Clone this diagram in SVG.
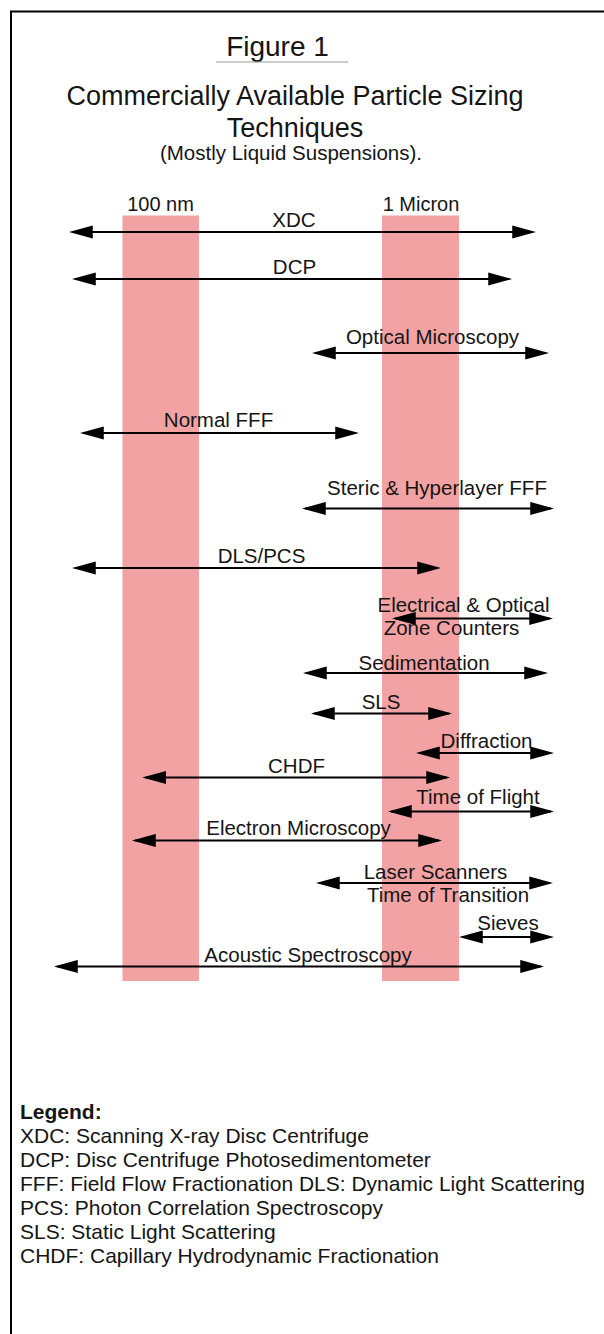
<svg xmlns="http://www.w3.org/2000/svg" width="604" height="1334" viewBox="0 0 604 1334">
<style>
text{font-family:"Liberation Sans",Arial,sans-serif;fill:#151515}
.t{font-size:27px;text-anchor:middle}
.lab{font-size:20.5px;text-anchor:middle}
.leg{font-size:21px}
.arr{stroke:#000;stroke-width:2;fill:none;marker-start:url(#ah);marker-end:url(#ah)}
.bar{fill:#F3A2A4}
</style>
<defs>
<marker id="ah" markerUnits="userSpaceOnUse" markerWidth="24" markerHeight="14" viewBox="0 0 22 12" refX="19" refY="6" orient="auto-start-reverse">
<path d="M0,0 L22,6 L0,12 Z" fill="#000"/>
</marker>
</defs>
<rect x="0" y="0" width="604" height="1334" fill="#fff"/>
<rect x="11" y="11.5" width="700" height="1400" fill="none" stroke="#000" stroke-width="2"/>

<g id="title">
<text x="277.5" y="56" style="font-size:28px;text-anchor:middle">Figure 1</text>
<line x1="216" y1="62" x2="348" y2="62" stroke="#999" stroke-width="1.2"/>
<text class="t" x="295" y="105">Commercially Available Particle Sizing</text>
<text class="t" x="295" y="137">Techniques</text>
<text class="lab" x="291" y="159.5">(Mostly Liquid Suspensions).</text>
</g>

<g id="scale-100nm">
<rect class="bar" x="122.5" y="215.5" width="76.5" height="765.5"/>
<text x="160.5" y="210.5" style="font-size:20px;text-anchor:middle">100 nm</text>
</g>
<g id="scale-1micron">
<rect class="bar" x="382" y="215.5" width="77" height="765.5"/>
<text x="421" y="210.5" style="font-size:20px;text-anchor:middle">1 Micron</text>
</g>

<g id="connectors">
<line class="arr" x1="72" y1="232" x2="533" y2="232"/>
<line class="arr" x1="75" y1="279" x2="509" y2="279"/>
<line class="arr" x1="315" y1="353" x2="546" y2="353"/>
<line class="arr" x1="83" y1="433" x2="356" y2="433"/>
<line class="arr" x1="305" y1="508.5" x2="551" y2="508.5"/>
<line class="arr" x1="75" y1="568" x2="438" y2="568"/>
<line class="arr" x1="395" y1="618.5" x2="550" y2="618.5"/>
<line class="arr" x1="306" y1="673" x2="545" y2="673"/>
<line class="arr" x1="314" y1="713.5" x2="449" y2="713.5"/>
<line class="arr" x1="419" y1="753" x2="551" y2="753"/>
<line class="arr" x1="145.5" y1="777.5" x2="447" y2="777.5"/>
<line class="arr" x1="391" y1="811.5" x2="551" y2="811.5"/>
<line class="arr" x1="135" y1="840.5" x2="439" y2="840.5"/>
<line class="arr" x1="319" y1="883" x2="550" y2="883"/>
<line class="arr" x1="462" y1="937" x2="551" y2="937"/>
<line class="arr" x1="57" y1="966.5" x2="541" y2="966.5"/>
</g>

<g id="n-xdc"><text class="lab" x="294" y="226.5">XDC</text></g>
<g id="n-dcp"><text class="lab" x="294.5" y="274">DCP</text></g>
<g id="n-optical"><text class="lab" x="432.5" y="344">Optical Microscopy</text></g>
<g id="n-normalfff"><text class="lab" x="218.5" y="427">Normal FFF</text></g>
<g id="n-steric"><text class="lab" x="437" y="495">Steric &amp; Hyperlayer FFF</text></g>
<g id="n-dls"><text class="lab" x="261.5" y="563">DLS/PCS</text></g>
<g id="n-zone"><text class="lab" x="463.5" y="611.5">Electrical &amp; Optical</text><text class="lab" x="451.5" y="635">Zone Counters</text></g>
<g id="n-sed"><text class="lab" x="424" y="670">Sedimentation</text></g>
<g id="n-sls"><text class="lab" x="381" y="709">SLS</text></g>
<g id="n-diff"><text class="lab" x="486.5" y="748">Diffraction</text></g>
<g id="n-chdf"><text class="lab" x="296.5" y="773">CHDF</text></g>
<g id="n-tof"><text class="lab" x="478" y="804">Time of Flight</text></g>
<g id="n-em"><text class="lab" x="298.5" y="835">Electron Microscopy</text></g>
<g id="n-laser"><text class="lab" x="435.5" y="879">Laser Scanners</text><text class="lab" x="448" y="902">Time of Transition</text></g>
<g id="n-sieves"><text class="lab" x="508" y="930">Sieves</text></g>
<g id="n-acoustic"><text class="lab" x="308" y="962">Acoustic Spectroscopy</text></g>

<g id="legend">
<text class="leg" x="20" y="1119" style="font-weight:bold">Legend:</text>
<text class="leg" x="20" y="1143">XDC: Scanning X-ray Disc Centrifuge</text>
<text class="leg" x="20" y="1167">DCP: Disc Centrifuge Photosedimentometer</text>
<text class="leg" x="20" y="1191">FFF: Field Flow Fractionation DLS: Dynamic Light Scattering</text>
<text class="leg" x="20" y="1215">PCS: Photon Correlation Spectroscopy</text>
<text class="leg" x="20" y="1239">SLS: Static Light Scattering</text>
<text class="leg" x="20" y="1263">CHDF: Capillary Hydrodynamic Fractionation</text>
</g>
</svg>
